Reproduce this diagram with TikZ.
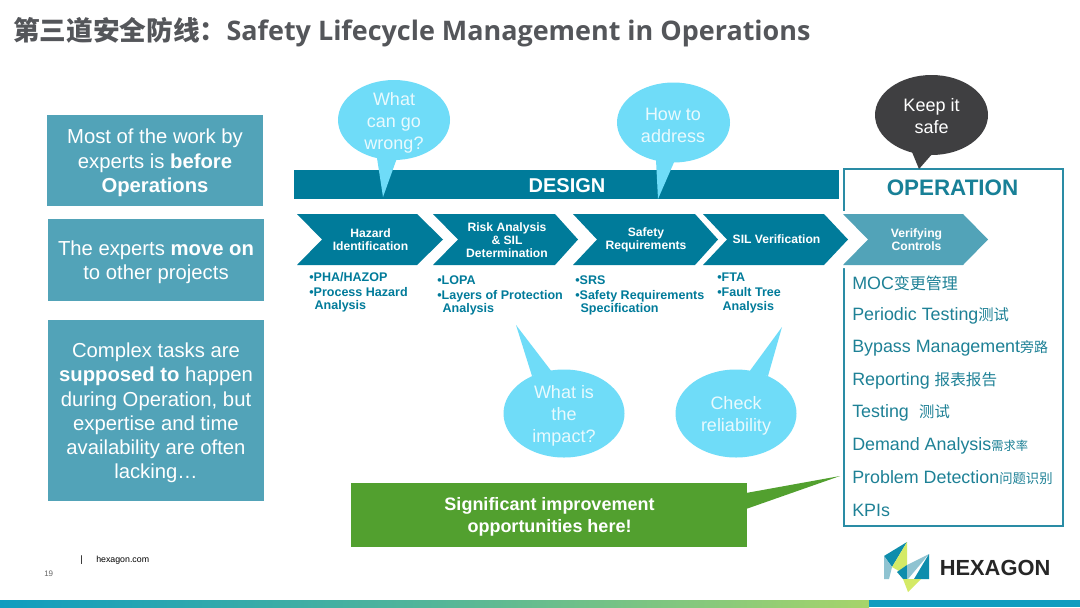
\documentclass[tikz,border=0pt]{standalone}
\usepackage{fontspec}
\setmainfont{Liberation Sans}
\newfontfamily\cjk{Noto Sans CJK SC}
\newfontfamily\titlefont{Open Sans}
\definecolor{deep}{HTML}{007B9A}
\definecolor{soft}{HTML}{52A3B8}
\definecolor{sky}{HTML}{6FDCF8}
\definecolor{opline}{HTML}{2A8CA5}
\definecolor{optext}{HTML}{1E8196}
\definecolor{dark}{HTML}{3F3F41}
\definecolor{grn}{HTML}{52A02F}
\definecolor{ttl}{HTML}{54565A}
\definecolor{lgb}{HTML}{0F9DBF}
\definecolor{lgg}{HTML}{A6D46A}
\newcommand{\fs}[2]{\fontsize{#1}{#2}\selectfont}
\tikzset{
  panel/.style={fill=soft,draw=none,text=white,align=center,font=\fs{15.2}{18.2},inner sep=0pt},
  chev/.style={fill=deep,draw=none},
  chevtext/.style={text=white,align=center,font=\bfseries\fs{9.1}{9.6},inner sep=0pt},
  bullets/.style={text=deep,align=left,anchor=north west,font=\bfseries\fs{9.4}{9.8},inner sep=0pt},
  bubtext/.style={align=center,inner sep=0pt,font=\fs{13.5}{16.5},text=white!85!sky},
  oplist/.style={anchor=west,text=optext,inner sep=0pt,font=\fs{13.4}{16}},
}
\begin{document}
\begin{tikzpicture}[x=0.75pt,y=-0.75pt]
\useasboundingbox (0,0) rectangle (1080,607);
\fill[white] (0,0) rectangle (1080,607);

% title
\node[anchor=west,inner sep=0pt,text=ttl] (title) at (13,32) {\cjk\bfseries\fs{20}{24}第三道安全防线：\titlefont\bfseries\fs{20.2}{24}Safety Lifecycle Management in Operations};

% left panels
\path[panel] (47,115) rectangle (263,206);
\node[panel] (p1) at (155,163) {Most of the work by\\experts is \textbf{before}\\\textbf{Operations}};
\path[panel] (48,219) rectangle (264,301);
\node[panel] (p2) at (156,262) {The experts \textbf{move on}\\to other projects};
\path[panel] (48,320) rectangle (264,501);
\node[panel] (p3) at (156,413) {Complex tasks are\\\textbf{supposed to} happen\\during Operation, but\\expertise and time\\availability are often\\lacking…};

% design bar and operation box
\fill[deep] (294,170) rectangle (839,199);
\node[text=white,inner sep=0pt,font=\bfseries\fs{15}{18}] (design) at (567,186) {DESIGN};
\draw[opline,line width=1.5pt] (843.5,168.5) rectangle (1062.5,525.5);
\node[text=optext!80!deep,inner sep=0pt,font=\bfseries\fs{16.8}{20}] (oper) at (952.5,188) {OPERATION};

% callouts
\fill[sky] (394,120) ellipse [x radius=56,y radius=40];
\fill[sky] (377,158) -- (383,197) -- (397,158) -- cycle;
\node[bubtext] (b1) at (394,122.5) {What\\can go\\wrong?};
\fill[sky] (673.5,122.5) ellipse [x radius=56.5,y radius=40];
\fill[sky] (656,160) -- (658,199) -- (675,160) -- cycle;
\node[bubtext] (b2) at (673,125) {How to\\address};
\fill[dark] (931.5,115) ellipse [x radius=56.5,y radius=40];
\fill[dark] (912,152) -- (919,169) -- (933,153) -- cycle;
\node[text=white,align=center,inner sep=0pt,font=\fs{13.5}{16.5}] (b3) at (931.5,116.5) {Keep it\\safe};
\fill[sky] (564,413.5) ellipse [x radius=60.5,y radius=44];
\fill[sky] (532,376) -- (516,325) -- (552,372) -- cycle;
\node[bubtext] (b4) at (564,415.5) {What is\\the\\impact?};
\fill[sky] (736,413.5) ellipse [x radius=60.5,y radius=44];
\fill[sky] (749,372) -- (782,327) -- (768,376) -- cycle;
\node[bubtext] (b5) at (736,416) {Check\\reliability};

% chevrons
\fill[chev] (297,214) -- (417,214) -- (443,239.5) -- (417,265) -- (297,265) -- (322,239.5) -- cycle;
\node[chevtext] (c1) at (370.5,240) {Hazard\\Identification};
\fill[chev] (433,214) -- (555,214) -- (578,239.5) -- (555,265) -- (433,265) -- (458,239.5) -- cycle;
\node[chevtext] (c2) at (507,240) {Risk Analysis\\\& SIL\\Determination};
\fill[chev] (573,214) -- (695,214) -- (718,239.5) -- (695,265) -- (573,265) -- (597,239.5) -- cycle;
\node[chevtext] (c3) at (646,240) {Safety\\Requirements};
\fill[white] (838,211) -- (846,211) -- (871,239.5) -- (846,268) -- (838,268) -- cycle;
\fill[chev] (703,214) -- (824,214) -- (848,239.5) -- (824,265) -- (703,265) -- (727,239.5) -- cycle;
\node[chevtext] (c4) at (776.5,239.5) {SIL Verification};
\fill[soft] (843,214) -- (963,214) -- (988,239.5) -- (963,265) -- (843,265) -- (868,239.5) -- cycle;
\node[chevtext] (c5) at (916.5,239.5) {Verifying\\Controls};

% bullet lists
\node[bullets] (l1) at (309,272.5) {•PHA/HAZOP\\[1.5pt]•Process Hazard\\\hspace{4pt}Analysis};
\node[bullets] (l2) at (437,275) {•LOPA\\[1.5pt]•Layers of Protection\\\hspace{4pt}Analysis};
\node[bullets] (l3) at (575,275) {•SRS\\[1.5pt]•Safety Requirements\\\hspace{4pt}Specification};
\node[bullets] (l4) at (717,273) {•FTA\\[1.5pt]•Fault Tree\\\hspace{4pt}Analysis};

% operation list
\node[oplist] (o1) at (852,283.5) {MOC{\cjk\fs{12}{16}变更管理}};
\node[oplist] (o2) at (852,316) {Periodic Testing{\cjk\fs{11.5}{16}测试}};
\node[oplist] (o3) at (852,348.5) {Bypass Management{\cjk\fs{10.5}{16}旁路}};
\node[oplist] (o4) at (852,381) {Reporting {\cjk\fs{11.7}{16}报表报告}};
\node[oplist] (o5) at (852,413) {Testing\hspace{4pt} {\cjk\fs{11.5}{16}测试}};
\node[oplist] (o6) at (852,445.5) {Demand Analysis{\cjk\fs{9.2}{16}需求率}};
\node[oplist] (o7) at (852,478) {Problem Detection{\cjk\fs{10}{16}问题识别}};
\node[oplist] (o8) at (852,510) {KPIs};

% green box
\fill[grn] (351,483) rectangle (747,547);
\fill[grn] (746,493) -- (840,476) -- (746,509) -- cycle;
\node[text=white,align=center,inner sep=0pt,font=\bfseries\fs{13.5}{16.5}] (g) at (549.5,517) {Significant improvement\\opportunities here!};

% footer
\node[inner sep=0pt,font=\fs{7}{8}] (bar) at (81.5,560.5) {|};
\node[anchor=west,inner sep=0pt,font=\fs{6.6}{8}] (web) at (96,560.5) {hexagon.com};
\node[anchor=west,inner sep=0pt,text=black!60,font=\fs{6}{8}] (pg) at (44,574) {19};

% logo
\fill[lgb!90!black] (907,542) -- (884,556) -- (892,567) -- cycle;
\fill[lgg!60!yellow!80!white] (907,542) -- (907,565) -- (899,571) -- (892,567) -- cycle;
\fill[soft!65!white] (884,556) -- (884,579) -- (889,579) -- (892,567) -- cycle;
\fill[lgb!90!black] (897,572) -- (907,565) -- (907,579) -- (903,579) -- cycle;
\fill[soft!65!white] (907,565) -- (929,554) -- (908,579) -- (907,579) -- cycle;
\fill[lgb!90!black] (929,554) -- (929,579) -- (914,579) -- cycle;
\fill[lgg!60!yellow!80!white] (903,579) -- (921,579) -- (908,592) -- cycle;
\node[anchor=west,inner sep=0pt,text=black!85,font=\bfseries\fs{16.4}{18}] (logo) at (939.5,567.5) {HEXAGON};

% bottom band
\fill[left color=lgb,right color=lgg,middle color=lgb!55!lgg] (0,600) rectangle (869,607);
\fill[lgb] (869,600) rectangle (1080,607);
\end{tikzpicture}
\end{document}
